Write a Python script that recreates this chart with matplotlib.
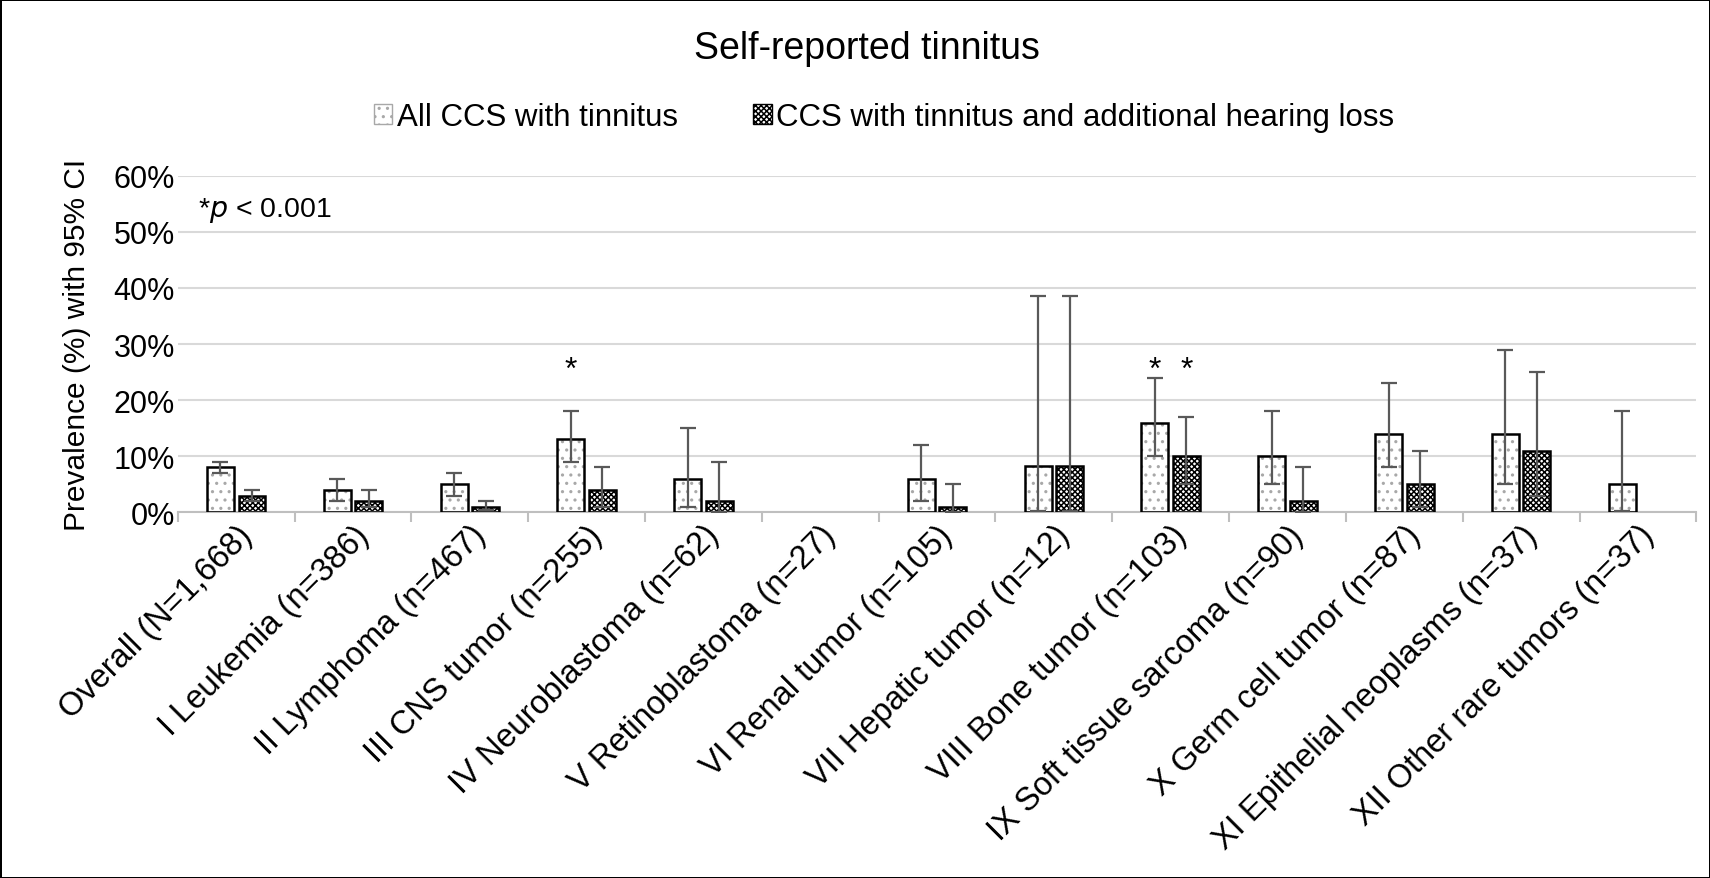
import matplotlib.pyplot as plt
import numpy as np
from matplotlib.ticker import PercentFormatter, FixedLocator
from matplotlib.patches import Patch

plt.rcParams['font.family'] = ['Liberation Sans', 'DejaVu Sans']
plt.rcParams['hatch.linewidth'] = 1.1

categories = ["Overall (N=1,668)", "I Leukemia (n=386)", "II Lymphoma (n=467)",
              "III CNS tumor (n=255)", "IV Neuroblastoma (n=62)", "V Retinoblastoma (n=27)",
              "VI Renal tumor (n=105)", "VII Hepatic tumor (n=12)", "VIII Bone tumor (n=103)",
              "IX Soft tissue sarcoma (n=90)", "X Germ cell tumor (n=87)",
              "XI Epithelial neoplasms (n=37)", "XII Other rare tumors (n=37)"]

all_val = [8, 4, 5, 13, 6, 0, 6, 8.3, 16, 10, 14, 14, 5]
all_lo = [7, 2, 3, 9, 1, 0, 2, 0.2, 10, 5, 8, 5, 0.2]
all_hi = [9, 6, 7, 18, 15, 0, 12, 38.5, 24, 18, 23, 29, 18]

hl_val = [3, 2, 1, 4, 2, 0, 1, 8.3, 10, 2, 5, 11, 0]
hl_lo = [2, 1, 0.5, 1, 0.1, 0, 0.1, 0.2, 5, 0.1, 1, 3, 0]
hl_hi = [4, 4, 2, 8, 9, 0, 5, 38.5, 17, 8, 11, 25, 0]

# asterisks: (category index, series 0/1)
stars = [(3, 0), (8, 0), (8, 1)]

x = np.arange(len(categories))
w = 0.23
off = 0.135

fig = plt.figure(figsize=(17.1, 8.79), dpi=100)
fig.patch.set_edgecolor('black')
fig.patch.set_linewidth(2)
ax = fig.add_axes([0.104, 0.416, 0.888, 0.383])

def draw(xs, vals, lo, hi, hatch, hcolor):
    vals = np.array(vals) / 100
    lo = np.array(lo) / 100
    hi = np.array(hi) / 100
    show = vals > 0
    ax.bar(xs[show], vals[show], w, color='white', hatch=hatch, edgecolor=hcolor, linewidth=0, zorder=2)
    ax.bar(xs[show], vals[show], w, fill=False, edgecolor='black', linewidth=1.8, zorder=3)
    ax.errorbar(xs[show], vals[show], yerr=[vals[show] - lo[show], hi[show] - vals[show]],
                fmt='none', ecolor='#595959', elinewidth=1.6, capsize=6, capthick=1.6, zorder=4)

draw(x - off, all_val, all_lo, all_hi, '..', '#a8a8a8')
draw(x + off, hl_val, hl_lo, hl_hi, 'xxxxxx', 'black')

for i, s in stars:
    xs = x[i] - off if s == 0 else x[i] + off
    ax.text(xs, 0.228, '*', ha='center', va='bottom', fontsize=23)

ax.set_ylim(0, 0.6)
ax.set_xlim(-0.5, len(categories) - 0.5)
ax.yaxis.set_major_formatter(PercentFormatter(1.0, decimals=0))
ax.set_yticks(np.arange(0, 0.61, 0.1))
ax.grid(axis='y', color='#d9d9d9', linewidth=1.5, zorder=0)
ax.set_axisbelow(True)
for sp in ['top', 'right', 'left']:
    ax.spines[sp].set_visible(False)
ax.spines['bottom'].set_color('#bfbfbf')
ax.spines['bottom'].set_linewidth(1.5)
ax.tick_params(axis='y', length=0, labelsize=22, pad=2)
ax.set_xticks(x)
ax.set_xticklabels(categories, rotation=45, ha='right', rotation_mode='anchor', fontsize=23.5)
ax.tick_params(axis='x', which='major', length=0, pad=5)
ax.xaxis.set_minor_locator(FixedLocator(np.arange(-0.5, len(categories), 1.0)))
ax.tick_params(axis='x', which='minor', length=7, color='#bfbfbf', width=1.5)
ax.set_ylabel('Prevalence (%) with 95% CI', fontsize=21.5, labelpad=16)

ax.text(0.013, 0.9, r'*$\it{p}$ < 0.001', transform=ax.transAxes, fontsize=20.5, va='center')

fig.text(0.507, 0.944, 'Self-reported tinnitus', ha='center', va='center', fontsize=27)

h1 = Patch(facecolor='white', edgecolor='#a8a8a8', hatch='..')
h2 = Patch(facecolor='white', edgecolor='black', hatch='xxxxxx')
leg = fig.legend([h1, h2], ['All CCS with tinnitus', 'CCS with tinnitus and additional hearing loss'],
                 loc='center', bbox_to_anchor=(0.517, 0.866), ncol=2, frameon=False, fontsize=22.5,
                 handlelength=0.6, handleheight=0.6, handletextpad=0.15, columnspacing=2.4)

fig.savefig('out.png', dpi=100)
